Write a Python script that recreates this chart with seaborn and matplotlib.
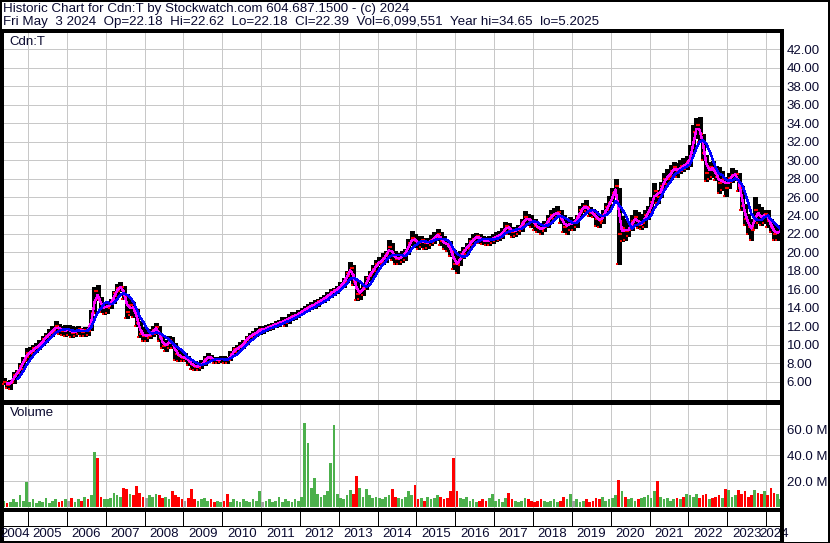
import numpy as np
import pandas as pd
import matplotlib
matplotlib.use("Agg")
import matplotlib.pyplot as plt
from matplotlib.patches import Rectangle
from matplotlib.lines import Line2D
import seaborn as sns

# ---------------- data (monthly, May 2004 .. May 2024) ----------------
start_year, start_month = 2004, 5

high = [
    6.4, 6.1, 6.2, 7.0, 7.3, 8.0, 8.7, 9.6,
    9.8, 10.0, 10.2, 10.5, 11.0, 11.3, 11.7, 12.0, 12.6, 12.3, 12.0, 12.1,
    12.1, 12.0, 11.9, 12.0, 11.8, 11.9, 11.9, 13.8, 16.3, 16.5, 15.2, 14.5,
    14.6, 15.0, 15.8, 16.6, 16.8, 16.4, 15.5, 14.8, 14.6, 13.9, 12.6, 11.9,
    11.6, 11.7, 12.0, 12.4, 12.0, 11.0, 10.5, 10.9, 10.8, 10.2, 9.6, 9.3,
    9.1, 8.8, 8.3, 8.2, 8.0, 8.3, 8.8, 9.1, 8.9, 8.7, 8.7, 8.8,
    8.8, 8.7, 9.3, 9.8, 10.0, 10.3, 10.5, 10.9, 11.3, 11.5, 11.8, 12.0,
    12.0, 12.1, 12.2, 12.4, 12.6, 12.7, 13.0, 13.0, 13.3, 13.5, 13.6, 13.8,
    14.0, 14.2, 14.4, 14.6, 14.8, 15.0, 15.2, 15.4, 15.7, 16.0, 16.2, 16.4,
    16.8, 17.2, 18.0, 19.0, 18.6, 16.8, 16.2, 16.5, 17.4, 18.0, 18.6, 19.2,
    19.5, 19.9, 20.2, 21.3, 21.0, 20.2, 19.9, 20.2, 20.4, 21.5, 22.3, 22.0,
    21.8, 21.8, 21.6, 21.6, 21.9, 22.2, 22.5, 22.2, 21.8, 21.4, 21.2, 20.3,
    19.6, 20.2, 20.6, 21.0, 21.6, 22.0, 22.1, 22.0, 21.8, 21.7, 21.8, 22.0,
    22.2, 22.3, 22.6, 23.3, 23.2, 22.8, 22.8, 23.0, 23.6, 24.5, 24.2, 24.0,
    23.6, 23.2, 23.0, 23.4, 24.0, 24.6, 24.8, 25.0, 24.6, 24.0, 23.6, 23.8,
    23.6, 24.0, 25.0, 25.4, 25.7, 24.9, 24.7, 24.5, 24.2, 24.6, 25.4, 26.1,
    27.0, 27.9, 27.0, 23.9, 23.6, 23.4, 24.0, 24.6, 24.4, 24.2, 24.6, 25.0,
    26.0, 27.5, 26.8, 27.6, 28.6, 29.0, 29.5, 29.8, 29.7, 30.0, 30.2, 30.4,
    31.6, 33.8, 34.6, 34.65, 32.8, 30.6, 29.8, 29.9, 29.4, 29.2, 28.8, 28.2,
    28.6, 29.1, 28.9, 28.6, 27.2, 25.2, 24.2, 23.6, 26.0, 25.2, 24.9, 24.6,
    24.6, 23.6, 23.2, 23.0, 22.62,
]
low = [
    5.8, 5.3, 5.2, 5.9, 6.5, 6.9, 7.4, 8.2,
    8.7, 9.0, 9.2, 9.5, 10.0, 10.3, 10.8, 11.0, 11.4, 11.2, 11.1, 11.0,
    11.1, 10.8, 11.0, 11.2, 10.9, 11.0, 11.1, 11.6, 13.4, 14.8, 13.6, 13.3,
    13.4, 14.0, 14.5, 15.3, 15.8, 15.0, 12.9, 13.2, 13.0, 12.0, 10.8, 10.4,
    10.4, 10.7, 10.9, 11.2, 10.4, 9.6, 9.3, 9.7, 9.6, 8.4, 8.2, 8.2,
    8.2, 7.8, 7.4, 7.3, 7.3, 7.5, 7.8, 8.2, 8.2, 8.0, 8.0, 8.1,
    8.0, 8.0, 8.3, 8.9, 9.2, 9.5, 9.7, 10.1, 10.5, 10.8, 11.0, 11.2,
    11.3, 11.5, 11.6, 11.7, 11.9, 12.0, 12.2, 12.0, 12.4, 12.7, 12.8, 13.0,
    13.3, 13.5, 13.7, 13.9, 14.0, 14.2, 14.5, 14.6, 14.9, 15.2, 15.4, 15.6,
    16.1, 16.3, 16.8, 17.5, 16.5, 14.8, 15.0, 15.4, 16.0, 16.9, 17.5, 18.0,
    18.6, 18.7, 19.0, 19.5, 19.2, 18.8, 18.8, 19.0, 19.2, 19.8, 20.8, 20.6,
    20.4, 20.6, 20.4, 20.5, 20.8, 21.0, 21.4, 20.8, 20.4, 20.2, 19.6, 18.2,
    17.8, 18.6, 19.4, 19.8, 20.4, 20.8, 21.0, 21.0, 20.9, 20.8, 20.8, 21.0,
    21.2, 21.4, 21.6, 22.0, 22.0, 21.7, 21.8, 22.0, 22.3, 23.0, 23.0, 22.8,
    22.4, 22.2, 22.0, 22.3, 22.8, 23.2, 23.6, 23.8, 23.2, 22.2, 22.0, 22.4,
    22.4, 22.8, 23.8, 24.4, 24.5, 23.9, 23.8, 22.9, 22.8, 23.2, 24.2, 24.6,
    25.6, 26.2, 18.7, 21.2, 21.4, 21.8, 22.4, 23.0, 22.6, 22.5, 22.8, 23.6,
    24.4, 25.4, 25.4, 26.0, 27.0, 27.4, 28.0, 28.3, 28.2, 28.6, 28.8, 29.0,
    29.4, 31.0, 32.4, 32.0, 30.0, 27.7, 28.0, 28.2, 27.8, 26.4, 26.8, 26.1,
    27.0, 27.6, 27.8, 26.6, 24.6, 23.0, 22.0, 21.3, 22.6, 23.2, 23.0, 23.2,
    22.8, 22.2, 21.3, 21.4, 22.18,
]
close = [
    6.0, 5.6, 6.0, 6.7, 7.0, 7.7, 8.4, 9.1,
    9.2, 9.6, 9.8, 10.1, 10.6, 10.9, 11.3, 11.6, 12.0, 11.7, 11.5, 11.6,
    11.6, 11.3, 11.5, 11.7, 11.4, 11.6, 11.5, 13.4, 15.8, 15.0, 14.0, 14.1,
    14.2, 14.6, 15.6, 16.2, 16.3, 15.3, 13.6, 14.3, 13.8, 12.4, 11.2, 11.0,
    11.0, 11.2, 11.6, 11.9, 10.7, 9.9, 10.0, 10.5, 10.0, 9.0, 8.8, 8.6,
    8.6, 8.1, 7.8, 7.6, 7.7, 7.9, 8.5, 8.7, 8.5, 8.3, 8.4, 8.5,
    8.4, 8.3, 9.0, 9.5, 9.6, 9.9, 10.3, 10.7, 11.0, 11.2, 11.4, 11.7,
    11.7, 11.8, 12.0, 12.1, 12.3, 12.4, 12.6, 12.7, 12.9, 13.1, 13.2, 13.4,
    13.7, 13.9, 14.1, 14.3, 14.4, 14.7, 14.9, 15.1, 15.4, 15.7, 15.9, 16.1,
    16.5, 16.9, 17.8, 18.3, 16.8, 15.5, 15.8, 16.1, 17.2, 17.7, 18.2, 18.8,
    19.0, 19.4, 19.8, 20.6, 19.6, 19.3, 19.4, 19.6, 20.1, 21.0, 21.6, 21.2,
    21.0, 21.3, 21.0, 21.1, 21.4, 21.7, 22.0, 21.2, 21.0, 20.8, 20.0, 18.8,
    18.7, 19.8, 20.3, 20.6, 21.2, 21.5, 21.8, 21.4, 21.3, 21.2, 21.4, 21.6,
    21.7, 21.9, 22.2, 22.9, 22.5, 22.2, 22.4, 22.6, 23.2, 23.8, 23.5, 23.4,
    22.9, 22.6, 22.5, 23.0, 23.6, 24.0, 24.2, 24.4, 23.6, 22.8, 23.0, 23.2,
    23.2, 23.8, 24.6, 25.0, 24.9, 24.3, 24.2, 23.6, 23.4, 24.1, 24.9, 25.4,
    26.4, 27.2, 22.0, 22.6, 22.3, 22.6, 23.4, 23.8, 23.0, 23.2, 24.0, 24.4,
    25.5, 26.6, 26.0, 27.2, 28.0, 28.2, 28.8, 29.2, 28.8, 29.4, 29.3, 29.8,
    30.4, 33.0, 33.8, 32.8, 30.8, 28.6, 29.2, 29.0, 28.2, 27.5, 28.0, 27.0,
    28.1, 28.4, 28.5, 27.0, 25.0, 23.6, 22.8, 22.4, 24.6, 24.0, 23.8, 24.2,
    23.4, 22.7, 22.0, 22.2, 22.39,
]
volume_m = [
    5, 3, 4, 6, 4, 9, 5, 19,
    4, 6, 3, 5, 4, 7, 3, 5, 6, 4, 5, 6,
    5, 7, 4, 6, 5, 8, 6, 9, 42, 38, 8, 6,
    6, 7, 11, 9, 8, 15, 14, 10, 9, 16, 11, 8,
    7, 9, 8, 10, 9, 7, 8, 6, 12, 9, 8, 6,
    5, 7, 14, 6, 5, 6, 7, 5, 6, 4, 5, 4,
    5, 10, 4, 6, 5, 4, 6, 5, 4, 6, 5, 12,
    4, 5, 6, 4, 5, 8, 4, 6, 5, 4, 6, 5,
    8, 65, 49, 15, 22, 10, 8, 9, 12, 34, 63, 10,
    7, 6, 9, 13, 10, 24, 15, 8, 14, 9, 7, 8,
    7, 6, 8, 9, 14, 8, 7, 6, 8, 12, 9, 17,
    6, 7, 5, 8, 6, 7, 9, 8, 6, 7, 12, 38,
    12, 7, 6, 8, 5, 6, 4, 5, 6, 5, 7, 10,
    5, 6, 4, 7, 11, 6, 5, 4, 5, 7, 6, 5,
    4, 5, 6, 5, 4, 5, 6, 4, 5, 8, 6, 10,
    5, 6, 4, 5, 6, 4, 5, 7, 6, 8, 5, 6,
    7, 9, 21, 12, 8, 6, 7, 5, 6, 7, 8, 9,
    7, 12, 20, 8, 6, 7, 5, 6, 7, 6, 8, 10,
    9, 8, 10, 7, 9, 10, 6, 7, 8, 9, 7, 14,
    13, 8, 9, 13, 10, 12, 8, 9, 13, 11, 10, 12,
    9, 15, 11, 10, 6,
]
price_ticks = [6, 8, 10, 12, 14, 16, 18, 20, 22, 24, 26, 28, 30, 32, 34, 36, 38, 40, 42]
volume_ticks = [20, 40, 60]
year_labels = [str(y) for y in range(2004, 2025)]
header_1 = "Historic Chart for Cdn:T by Stockwatch.com 604.687.1500 - (c) 2024"
header_2 = ("Fri May  3 2024  Op=22.18  Hi=22.62  Lo=22.18  Cl=22.39  "
            "Vol=6,099,551  Year hi=34.65  lo=5.2025")

# ---------------- frame ----------------
n = len(close)
t = np.array([start_year + (start_month - 1 + i + 0.5) / 12.0 for i in range(n)])
df = pd.DataFrame({"t": t, "high": high, "low": low, "close": close, "vol": volume_m})
df["ma_fast"] = df["close"].rolling(2).mean()
df["ma_slow"] = df["close"].rolling(5).mean()
chg = df["close"].diff().fillna(1.0)
df["vcol"] = np.where(chg > 0, "#4cb04c", np.where(chg < 0, "#ff0000", "#a0a0a0"))

sns.set_style("white")
plt.rcParams["font.family"] = ["Liberation Sans", "DejaVu Sans"]
plt.rcParams["lines.antialiased"] = False
plt.rcParams["patch.antialiased"] = False

W, H = 830, 543
fig = plt.figure(figsize=(W / 100, H / 100), dpi=100)
fig.patch.set_facecolor("white")


def rect(x0, y0, x1, y1):
    return [x0 / W, 1 - y1 / H, (x1 - x0) / W, (y1 - y0) / H]


XL = (2004.314, 2024.404)
GRID = "#c8c8c8"
TXT = "#0a0a30"
FS = 9.5
HFS = 9.65
PX = 0.72  # one pixel in points

ax_p = fig.add_axes(rect(1.5, 31, 781.7, 401))
ax_v = fig.add_axes(rect(1.5, 403, 781.7, 510))
ax_d = fig.add_axes(rect(1.5, 510, 781.7, 542))

years_grid = list(range(2005, 2025))

# ---- price panel ----
ax_p.set_xlim(*XL)
ax_p.set_ylim(3.91, 43.98)
for y in price_ticks:
    ax_p.axhline(y, color=GRID, lw=PX, zorder=0)
for yr in years_grid:
    ax_p.axvline(yr, color=GRID, lw=PX, zorder=0)
ax_p.vlines(df["t"], df["low"], df["high"], color="black", lw=2.3, zorder=2)
ax_p.plot(df["t"] + 0.035, df["close"], ls="none", marker="_", ms=2.6,
          mew=1.5, color="#ff0000", zorder=3)
ax_p.plot(df["t"] - 0.035, df["low"], ls="none", marker="_", ms=2.0,
          mew=1.4, color="#ff0000", zorder=3)
sns.lineplot(data=df, x="t", y="ma_fast", color="#ff00ff", lw=1.4 * PX, ax=ax_p, zorder=4)
sns.lineplot(data=df, x="t", y="ma_slow", color="#0000ff", lw=1.4 * PX, ax=ax_p, zorder=5)
ax_p.set_yticks(price_ticks)
ax_p.set_yticklabels([f"{v:.2f}" for v in price_ticks])
ax_p.yaxis.tick_right()
ax_p.tick_params(axis="y", length=0, pad=3.5, labelsize=FS, labelcolor=TXT)
ax_p.set_xticks([])
ax_p.set_xlabel("")
ax_p.set_ylabel("")
ax_p.text(8 / 780, 1 - 11 / 370, "Cdn:T", transform=ax_p.transAxes, ha="left",
          va="center", fontsize=FS, color=TXT)

# ---- volume panel ----
ax_v.set_xlim(*XL)
ax_v.set_ylim(-2.3, 80)
for y in volume_ticks:
    ax_v.axhline(y, color=GRID, lw=PX, zorder=0)
for yr in years_grid:
    ax_v.axvline(yr, color=GRID, lw=PX, zorder=0)
ax_v.bar(df["t"], df["vol"], width=0.07, color=df["vcol"], lw=0, zorder=2)
ax_v.set_yticks(volume_ticks)
ax_v.set_yticklabels([f"{v:.1f} M" for v in volume_ticks])
ax_v.yaxis.tick_right()
ax_v.tick_params(axis="y", length=0, pad=3.5, labelsize=FS, labelcolor=TXT)
ax_v.set_xticks([])
ax_v.text(8 / 780, 1 - 10 / 107, "Volume", transform=ax_v.transAxes, ha="left",
          va="center", fontsize=FS, color=TXT)

# ---- date band ----
ax_d.set_xlim(*XL)
ax_d.set_ylim(0, 32)
ax_d.set_xticks([])
ax_d.set_yticks([])
for yr in years_grid:
    ax_d.plot([yr, yr], [16.5, 32], color="black", lw=PX)
ax_d.axhline(16.5, color="black", lw=PX)
bounds = [XL[0]] + years_grid + [XL[1]]
for i, lab in enumerate(year_labels):
    xc = 0.5 * (bounds[i] + bounds[i + 1])
    ax_d.text(xc, 8, lab, ha="center", va="center", fontsize=FS,
              color=TXT, clip_on=False)

for ax in (ax_p, ax_v, ax_d):
    for s in ax.spines.values():
        s.set_color("black")
        s.set_linewidth(1.4 * PX)
    ax.spines["right"].set_linewidth(2.2 * PX)
    ax.spines["left"].set_linewidth(2.6 * PX)
ax_p.spines["top"].set_linewidth(2.2 * PX)
ax_d.spines["top"].set_linewidth(2.2 * PX)

# ---- header and outer frame ----
fig.text(3 / W, 1 - 9 / H, header_1, ha="left", va="center", fontsize=HFS, color=TXT)
fig.text(3 / W, 1 - 22 / H, header_2, ha="left", va="center", fontsize=HFS, color=TXT)
fig.add_artist(Rectangle((0.5 / W, 0.5 / H), (W - 1.5) / W, (H - 1.5) / H,
                         transform=fig.transFigure, fill=False, ec="black",
                         lw=1.6 * PX))
fig.add_artist(Line2D([781.7 / W, 781.7 / W], [0, 1 - 31 / H], transform=fig.transFigure,
                      color="black", lw=2.2 * PX))

fig.savefig("out.png", dpi=100)
